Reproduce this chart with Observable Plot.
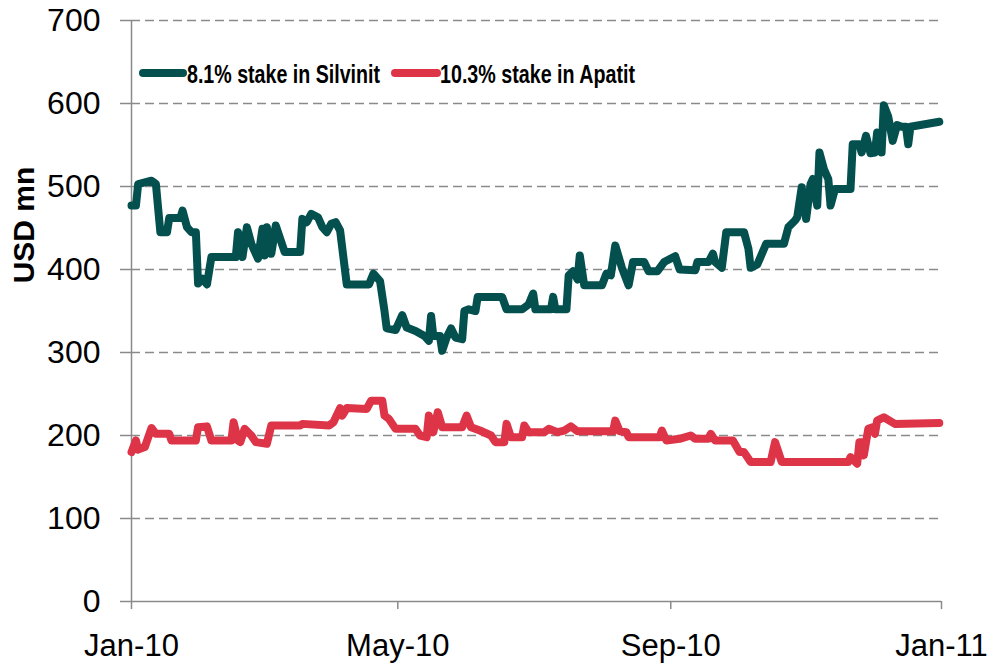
<!DOCTYPE html>
<html>
<head>
<meta charset="utf-8">
<script src="https://cdn.jsdelivr.net/npm/d3@7"></script>
<script src="https://cdn.jsdelivr.net/npm/@observablehq/plot@0.6"></script>
<style>
  html, body { margin: 0; padding: 0; background: #fff; }
  #chart { position: relative; width: 988px; height: 665px; }
</style>
</head>
<body>
<div id="chart"></div>
<script>
// ---- data ----
const seriesNames = ["8.1% stake in Silvinit", "10.3% stake in Apatit"];
const seriesColors = ["#03504F", "#DE3448"];

const silvinitDates = ["2010-01-01","2010-01-03","2010-01-04","2010-01-07","2010-01-10","2010-01-12","2010-01-14","2010-01-17","2010-01-18","2010-01-23","2010-01-24","2010-01-26","2010-01-28","2010-01-30","2010-01-31","2010-02-02","2010-02-04","2010-02-06","2010-02-17","2010-02-18","2010-02-20","2010-02-22","2010-02-24","2010-02-27","2010-03-01","2010-03-02","2010-03-03","2010-03-05","2010-03-07","2010-03-09","2010-03-11","2010-03-18","2010-03-19","2010-03-21","2010-03-23","2010-03-26","2010-03-28","2010-03-30","2010-04-01","2010-04-03","2010-04-05","2010-04-08","2010-04-18","2010-04-20","2010-04-23","2010-04-25","2010-04-26","2010-04-30","2010-05-03","2010-05-05","2010-05-09","2010-05-13","2010-05-15","2010-05-16","2010-05-17","2010-05-20","2010-05-21","2010-05-23","2010-05-25","2010-05-27","2010-05-30","2010-05-31","2010-06-02","2010-06-05","2010-06-06","2010-06-17","2010-06-19","2010-06-26","2010-06-29","2010-07-01","2010-07-02","2010-07-09","2010-07-10","2010-07-11","2010-07-16","2010-07-17","2010-07-19","2010-07-21","2010-07-22","2010-07-24","2010-08-01","2010-08-03","2010-08-05","2010-08-07","2010-08-10","2010-08-13","2010-08-15","2010-08-20","2010-08-22","2010-08-26","2010-08-29","2010-09-03","2010-09-05","2010-09-12","2010-09-13","2010-09-18","2010-09-20","2010-09-21","2010-09-24","2010-09-26","2010-10-04","2010-10-06","2010-10-07","2010-10-10","2010-10-14","2010-10-22","2010-10-24","2010-10-27","2010-10-28","2010-10-30","2010-10-31","2010-11-01","2010-11-03","2010-11-04","2010-11-06","2010-11-07","2010-11-09","2010-11-11","2010-11-12","2010-11-14","2010-11-21","2010-11-22","2010-11-25","2010-11-26","2010-11-28","2010-11-30","2010-12-02","2010-12-03","2010-12-05","2010-12-06","2010-12-08","2010-12-10","2010-12-12","2010-12-14","2010-12-16","2010-12-17","2010-12-18","2010-12-31"];
const silvinitValues = [477,477,503,505,507,503,445,445,462,462,471,451,445,445,383,389,382,415,415,445,415,451,431,413,449,417,451,419,453,437,421,421,461,457,467,463,451,445,455,457,447,382,382,395,386,350,329,327,345,330,326,320,314,344,320,320,302,318,329,318,316,350,352,350,367,367,352,352,358,371,352,352,367,352,352,393,398,388,417,381,381,395,393,429,402,381,409,409,398,398,409,416,400,399,409,409,419,409,402,445,445,425,402,406,431,431,451,459,463,499,479,461,503,509,477,541,521,509,477,497,497,551,551,541,561,540,541,565,541,598,584,555,574,572,572,551,572,578];

const apatitDates = ["2010-01-01","2010-01-03","2010-01-04","2010-01-07","2010-01-10","2010-01-12","2010-01-18","2010-01-19","2010-01-30","2010-01-31","2010-02-04","2010-02-06","2010-02-15","2010-02-16","2010-02-18","2010-02-19","2010-02-21","2010-02-24","2010-02-26","2010-03-03","2010-03-05","2010-03-18","2010-03-19","2010-03-31","2010-04-02","2010-04-05","2010-04-06","2010-04-08","2010-04-17","2010-04-19","2010-04-24","2010-04-25","2010-04-27","2010-04-30","2010-05-09","2010-05-11","2010-05-14","2010-05-15","2010-05-17","2010-05-19","2010-05-21","2010-05-30","2010-06-01","2010-06-03","2010-06-07","2010-06-12","2010-06-14","2010-06-18","2010-06-19","2010-06-21","2010-06-26","2010-06-27","2010-06-29","2010-07-06","2010-07-08","2010-07-12","2010-07-15","2010-07-18","2010-07-21","2010-08-06","2010-08-07","2010-08-09","2010-08-12","2010-08-13","2010-08-27","2010-08-28","2010-08-30","2010-09-05","2010-09-10","2010-09-12","2010-09-18","2010-09-19","2010-09-21","2010-09-29","2010-10-02","2010-10-04","2010-10-07","2010-10-16","2010-10-18","2010-10-21","2010-11-20","2010-11-21","2010-11-24","2010-11-25","2010-11-26","2010-11-27","2010-11-29","2010-12-01","2010-12-02","2010-12-03","2010-12-06","2010-12-11","2010-12-31"];
const apatitValues = [180,194,183,186,209,202,202,194,194,210,211,194,194,216,194,192,208,200,192,190,212,212,214,212,216,233,224,233,232,242,242,224,220,208,208,200,198,224,204,228,210,210,224,210,206,200,192,192,214,198,198,212,204,204,208,204,206,211,205,205,218,205,204,198,198,206,194,196,200,196,196,202,194,194,180,180,168,168,192,168,168,174,166,192,192,176,208,210,202,218,222,214,215];

const yTicks = [0, 100, 200, 300, 400, 500, 600, 700];
const xTickDates = ["2010-01-01", "2010-05-01", "2010-09-01", "2011-01-01"];
const xTickLabels = ["Jan-10", "May-10", "Sep-10", "Jan-11"];
const yLabel = "USD mn";

// ---- build table ----
const rows = [];
silvinitDates.forEach((d, i) => rows.push({date: new Date(d), value: silvinitValues[i], series: seriesNames[0]}));
apatitDates.forEach((d, i) => rows.push({date: new Date(d), value: apatitValues[i], series: seriesNames[1]}));

const xTicks = xTickDates.map(d => new Date(d));
const labelFor = d => xTickLabels[xTicks.findIndex(t => +t === +d)];
const axisGray = "#8a8a8a";

const chart = Plot.plot({
  width: 988,
  height: 665,
  marginLeft: 131,
  marginRight: 47,
  marginTop: 20,
  marginBottom: 64,
  style: {fontFamily: "'Liberation Sans', Arial, sans-serif", color: "#000", background: "#fff"},
  x: {type: "utc", domain: [xTicks[0], xTicks[xTicks.length - 1]]},
  y: {domain: [0, 700]},
  color: {domain: seriesNames, range: seriesColors},
  marks: [
    Plot.gridY(yTicks.filter(d => d > 0), {stroke: axisGray, strokeOpacity: 1, strokeWidth: 1.5, strokeDasharray: "9,5"}),
    Plot.ruleY([0], {stroke: axisGray, strokeWidth: 1.5}),
    Plot.ruleX([xTicks[0]], {stroke: axisGray, strokeWidth: 1.5}),
    Plot.axisY(yTicks, {tickSize: 11, tickPadding: 20, fontSize: 32, stroke: axisGray, strokeWidth: 1.5, fill: "#000", label: null}),
    Plot.axisX(xTicks, {tickSize: 8, tickPadding: 24, fontSize: 31, stroke: axisGray, strokeWidth: 1.5, fill: "#000", label: null, tickFormat: labelFor}),
    Plot.lineY(rows, {x: "date", y: "value", z: "series", stroke: "series", strokeWidth: 8, strokeLinejoin: "round", strokeLinecap: "round"})
  ]
});

document.getElementById("chart").appendChild(chart);

// y-axis title
const svg = d3.select(chart);
svg.append("text")
  .attr("transform", "translate(34,225) rotate(-90)")
  .attr("text-anchor", "middle")
  .attr("font-family", "'Liberation Sans', Arial, sans-serif")
  .attr("font-weight", "bold")
  .attr("font-size", 30)
  .attr("fill", "#000")
  .text(yLabel);

// legend inside plot area
const legendItems = [
  {x0: 143, x1: 183, tx: 187, w: 193},
  {x0: 395, x1: 437, tx: 440, w: 195}
];
const lg = svg.append("g").attr("text-anchor", "start");
seriesNames.forEach((name, i) => {
  const it = legendItems[i];
  lg.append("line")
    .attr("x1", it.x0).attr("x2", it.x1).attr("y1", 73).attr("y2", 73)
    .attr("stroke", seriesColors[i]).attr("stroke-width", 8).attr("stroke-linecap", "round");
  lg.append("text")
    .attr("x", it.tx).attr("y", 82.5)
    .attr("text-anchor", "start")
    .attr("font-family", "'Liberation Sans Narrow', 'Liberation Sans', Arial, sans-serif")
    .attr("font-weight", "bold")
    .attr("font-size", 26)
    .attr("textLength", it.w)
    .attr("lengthAdjust", "spacingAndGlyphs")
    .attr("fill", "#000")
    .text(name);
});
</script>
</body>
</html>
